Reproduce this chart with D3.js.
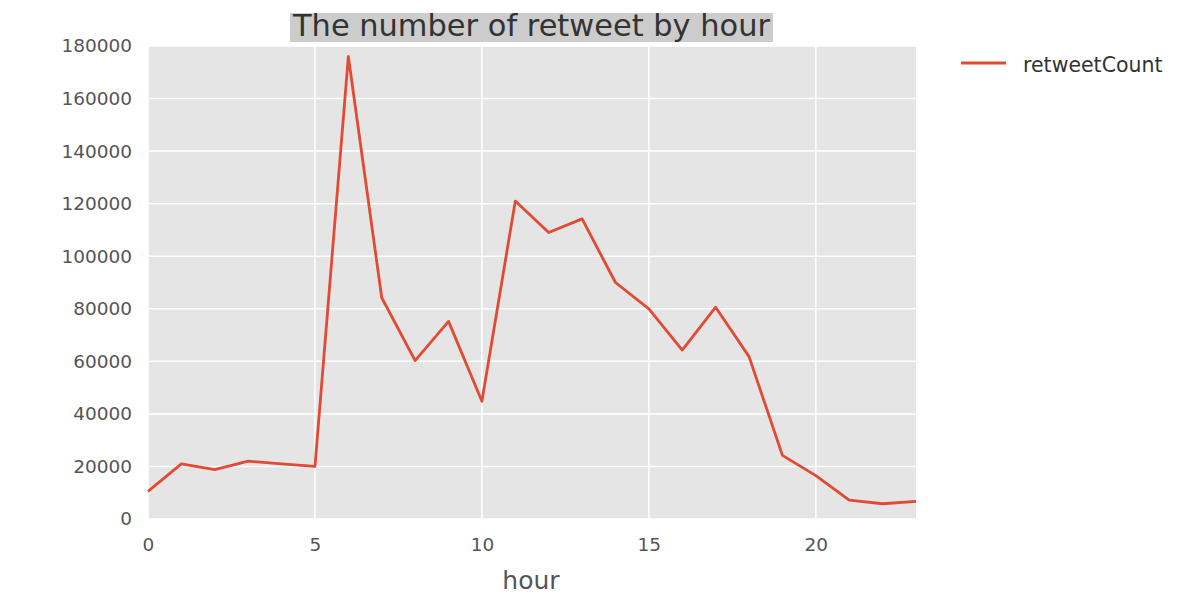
<!DOCTYPE html>
<html><head><meta charset="utf-8">
<script src="https://cdn.jsdelivr.net/npm/d3@7"></script>
<style>body{margin:0;background:#fff;} svg{display:block;}</style>
</head><body>
<svg id="c" width="1196" height="608"></svg>
<script>
const hours = [0,1,2,3,4,5,6,7,8,9,10,11,12,13,14,15,16,17,18,19,20,21,22,23];
const retweetCount = [10500,21000,18800,22000,21000,20000,176000,84200,60300,75200,44800,121000,109000,114200,90000,80000,64300,80600,61800,24200,16500,7200,5800,6700];
const xTicks = [0,5,10,15,20];
const yTicks = [0,20000,40000,60000,80000,100000,120000,140000,160000,180000];
const seriesName = "retweetCount";
const titleText = "The number of retweet by hour";
const xLabel = "hour";

const svg = d3.select("#c");
const L = 148, R = 916, T = 46, B = 519;
const x = d3.scaleLinear().domain([0,23]).range([L,R]);
const y = d3.scaleLinear().domain([0,180000]).range([B,T]);
const font = "DejaVu Sans, sans-serif";

svg.append("rect").attr("x",L).attr("y",T).attr("width",R-L).attr("height",B-T).attr("fill","#e5e5e5");

const g = svg.append("g");
g.selectAll(".gx").data(xTicks).join("line")
  .attr("x1",d=>x(d)).attr("x2",d=>x(d)).attr("y1",T).attr("y2",B)
  .attr("stroke","#fff").attr("stroke-width",1.5);
g.selectAll(".gy").data(yTicks).join("line")
  .attr("y1",d=>y(d)).attr("y2",d=>y(d)).attr("x1",L).attr("x2",R)
  .attr("stroke","#fff").attr("stroke-width",1.5);

const xAxis = svg.append("g").attr("transform",`translate(0,${B})`)
  .call(d3.axisBottom(x).tickValues(xTicks).tickSize(0).tickPadding(19).tickFormat(d3.format("d")));
const yAxis = svg.append("g").attr("transform",`translate(${L},0)`)
  .call(d3.axisLeft(y).tickValues(yTicks).tickSize(0).tickPadding(16).tickFormat(d3.format("d")));
[xAxis,yAxis].forEach(a=>{
  a.select(".domain").remove();
  a.selectAll("text").attr("fill","#555").style("font-family",font).style("font-size","18.5px");
});
xAxis.selectAll("text").attr("dy","0.71em");

const line = d3.line().x((d,i)=>x(hours[i])).y(d=>y(d));
svg.append("path").datum(retweetCount).attr("d",line)
  .attr("fill","none").attr("stroke","#E24A33").attr("stroke-width",2.8).attr("stroke-linejoin","round");

// title
const titleBg = svg.append("rect").attr("x",290).attr("y",13).attr("width",483).attr("height",29).attr("fill","#cccccc");
svg.append("text").attr("x",(L+R)/2 - 0.5).attr("y",36).attr("text-anchor","middle")
  .attr("textLength",477).attr("lengthAdjust","spacingAndGlyphs")
  .style("font-family",font).style("font-size","30px").attr("fill","#333").text(titleText);

svg.append("text").attr("x",531).attr("y",589).attr("text-anchor","middle")
  .style("font-family",font).style("font-size","25px").attr("fill","#555").text(xLabel);

// legend
svg.append("line").attr("x1",961).attr("x2",1006).attr("y1",63).attr("y2",63)
  .attr("stroke","#E24A33").attr("stroke-width",2.8);
svg.append("text").attr("x",1023).attr("y",72).style("font-family",font).style("font-size","20.5px")
  .attr("fill","#333").text(seriesName);
</script>
</body></html>
